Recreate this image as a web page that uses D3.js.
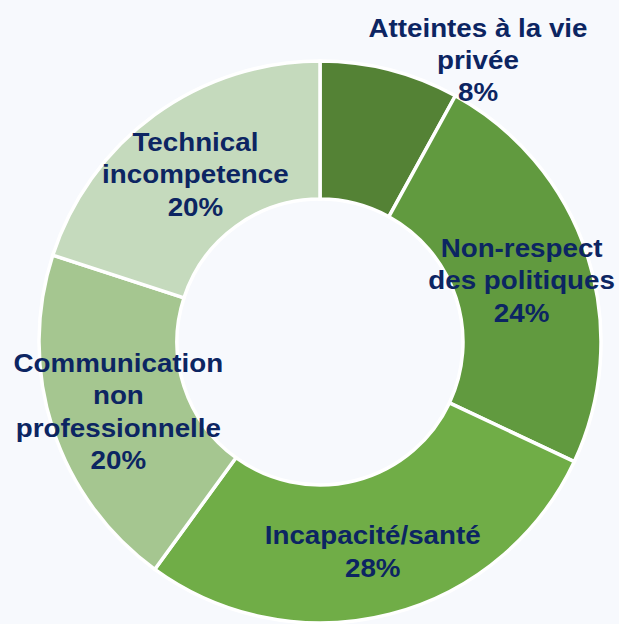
<!DOCTYPE html>
<html lang="en">
<head>
  <meta charset="UTF-8" />
  <title>Donut</title>
  <script src="https://d3js.org/d3.v7.min.js"></script>
  <style>
    body {
      margin: 0;
      background: #f7f9fd;
      font-family: Arial, "Liberation Sans", sans-serif;
    }
    .lbl text {
      font-size: 25px;
      font-weight: bold;
      fill: #0c2562;
    }
  </style>
</head>
<body>
<svg id="chart" width="619" height="624"></svg>
<script>
const categories = ["Atteintes à la vie privée", "Non-respect des politiques", "Incapacité/santé", "Communication non professionnelle", "Technical incompetence"];
const labelLines = [
  ["Atteintes à la vie", "privée"],
  ["Non-respect", "des politiques"],
  ["Incapacité/santé"],
  ["Communication", "non", "professionnelle"],
  ["Technical", "incompetence"]
];
const values = [8, 24, 28, 20, 20];
const colors = ["#548235", "#619a3f", "#70ad47", "#a5c690", "#c5dabd"];

const width = 619, height = 624;
const cx = 320, cy = 342;
const outerR = 281, innerR = 143;
const lineH = 32.5;

const svg = d3.select("#chart");
const g = svg.append("g").attr("transform", `translate(${cx},${cy})`);

const data = categories.map((c, i) => ({ name: c, value: values[i], lines: labelLines[i], color: colors[i] }));

const pie = d3.pie().value(d => d.value).sort(null);
const arc = d3.arc().innerRadius(innerR).outerRadius(outerR);
const arcs = pie(data);

g.selectAll("path")
  .data(arcs)
  .enter().append("path")
    .attr("d", arc)
    .attr("fill", d => d.data.color)
    .attr("stroke", "#fff")
    .attr("stroke-width", 3.5);

// labels: at centroid, small slice pushed outside above the ring
const lbl = g.append("g").attr("class", "lbl")
  .selectAll("g")
  .data(arcs)
  .enter().append("g")
    .attr("transform", d => {
      let [x, y] = arc.centroid(d);
      if (d.data.value < 10) {
        x = 158; y = -(outerR + 5);
      }
      return `translate(${x},${y}) scale(1.11,1)`;
    });

lbl.each(function(d) {
  const lines = d.data.lines.concat([d.data.value + "%"]);
  const n = lines.length;
  const top = -((n - 1) * lineH) / 2 + 13;
  d3.select(this).selectAll("text")
    .data(lines)
    .enter().append("text")
      .attr("text-anchor", "middle")
      .attr("y", (t, i) => top + i * lineH)
      .text(t => t);
});
</script>
</body>
</html>
